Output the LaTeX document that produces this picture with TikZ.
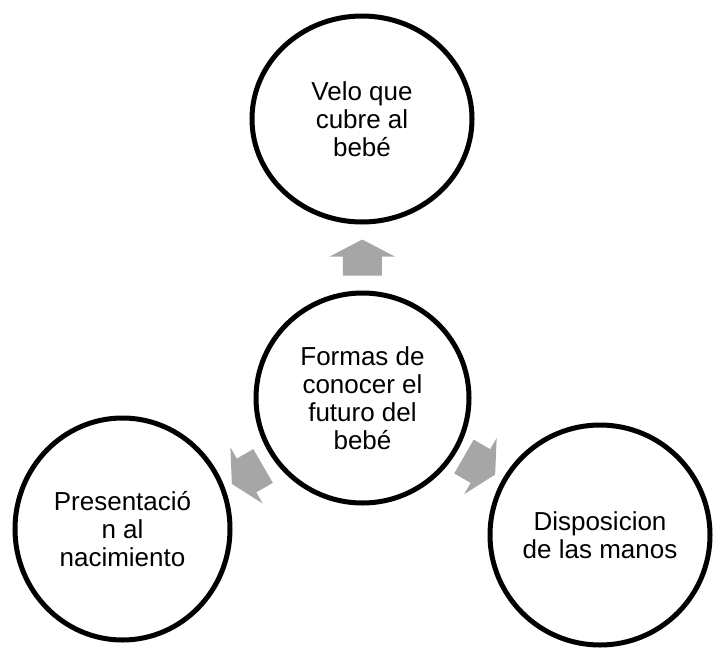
\documentclass[tikz,border=0pt]{standalone}
\usepackage{fontspec}
\setmainfont{Liberation Sans}
\usetikzlibrary{calc,shapes.geometric}

\begin{document}
\begin{tikzpicture}[x=1pt,y=-1pt]

% Colores
\definecolor{arrowGray}{HTML}{A6A6A6}

% Estilos
\tikzset{
  circulo/.style={ellipse, draw=black, line width=5pt, inner sep=0pt,
    align=center, font=\fontsize{26}{28}\selectfont},
}

% Flecha de bloque: centro, angulo
\newcommand{\flecha}[2]{%
  \fill[arrowGray, shift={#1}, rotate=#2]
    (-18,-19.5) -- (1,-19.5) -- (1,-32.5) -- (18,0) -- (1,32.5)
    -- (1,19.5) -- (-18,19.5) -- cycle;}

% Marco
\useasboundingbox (0,0) rectangle (717,648);

% Circulos
\node[circulo, minimum width=213pt, minimum height=210pt] (centro) at (362.5,398)
  {Formas de\\conocer el\\futuro del\\beb\'e};
\node[circulo, minimum width=220pt, minimum height=206pt] (velo) at (362,119)
  {Velo que\\cubre al\\beb\'e};
\node[circulo, minimum width=215pt, minimum height=222pt] (nacim) at (122.5,529)
  {Presentaci\'o\\n al\\nacimiento};
\node[circulo, minimum width=220pt, minimum height=220pt] (manos) at (600,535)
  {Disposicion\\de las manos};

% Flechas
\flecha{($(centro.north)!0.5!(velo.south)$)}{90}
\flecha{($(centro.-30)!0.5!(manos.150)$)}{-30}
\flecha{($(centro.210)!0.5!(nacim.30)+(4,12)$)}{210}

\end{tikzpicture}
\end{document}
